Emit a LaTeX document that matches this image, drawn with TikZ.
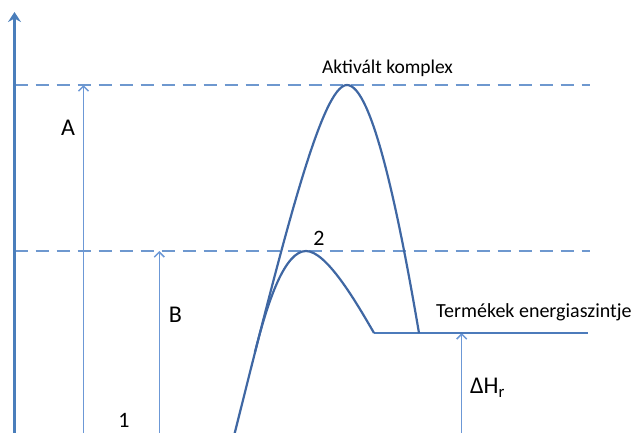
\documentclass[tikz,border=0pt]{standalone}
\usepackage{fontspec}
\setmainfont{Carlito}
\usetikzlibrary{arrows.meta}
\definecolor{axisblue}{HTML}{4A7EBB}
\definecolor{thinblue}{HTML}{6C98D6}
\definecolor{dashblue}{HTML}{6E98CF}
\definecolor{curveblue}{HTML}{3F67A3}
\definecolor{levelblue}{HTML}{4C7BBB}
\tikzset{
  axisline/.style={draw=axisblue, line width=3pt, -{Stealth[length=10pt,width=13pt,inset=3.5pt]}},
  thinarrow/.style={draw=thinblue, line width=1.5pt, -{Straight Barb[length=5pt,width=10pt]}},
  dashline/.style={draw=dashblue, line width=1.8pt, dash pattern=on 13pt off 8pt},
  curveline/.style={draw=curveblue, line width=2.2pt, line join=round},
  levelline/.style={draw=levelblue, line width=2.2pt},
  biglabel/.style={font=\fontsize{24}{28}\selectfont, inner sep=0pt},
  smalllabel/.style={font=\fontsize{19.5}{23}\selectfont, inner sep=0pt},
}
\begin{document}
\begin{tikzpicture}[x=1pt,y=-1pt]
\useasboundingbox (0,0) rectangle (633,432);
% coordinates
\coordinate (axB) at (14.5,436);
\coordinate (axT) at (14.5,12);
\coordinate (dAl) at (14.5,85);
\coordinate (dAr) at (590,85);
\coordinate (dBl) at (14.5,251);
\coordinate (dBr) at (590,251);
\coordinate (aAb) at (83.5,436);
\coordinate (aAt) at (83.5,85);
\coordinate (aBb) at (159.3,436);
\coordinate (aBt) at (159.3,251);
\coordinate (aHb) at (461.7,436);
\coordinate (aHt) at (461.7,333);
\coordinate (lvL) at (374,333);
\coordinate (lvR) at (588,333);
\coordinate (bigS) at (233,440);
\coordinate (peakA) at (347,85);
\coordinate (bigE) at (419,333);
\coordinate (smS) at (255,352);
\coordinate (peakB) at (306,251);
% dashed levels
\draw[dashline] (dAl) -- (dAr);
\draw[dashline] (dBl) -- (dBr);
% thin arrows
\draw[thinarrow] (aAb) -- (aAt);
\draw[thinarrow] (aBb) -- (aBt);
\draw[thinarrow] (aHb) -- (aHt);
% axis
\draw[axisline] (axB) -- (axT);
% product level
\draw[levelline] (lvL) -- (lvR);
% big curve
\draw[curveline] (bigS) .. controls (285,232) and (322,85) .. (peakA)
  .. controls (372,85) and (398.6,213) .. (bigE);
% small curve
\draw[curveline] (smS) .. controls (268,300) and (285,251) .. (peakB)
  .. controls (326,251) and (355,300) .. (lvL);
% labels
\node[biglabel] (lA) at (68,127.5) {A};
\node[biglabel] (lB) at (175.5,314.5) {B};
\node[biglabel, font=\fontsize{22}{26}\selectfont] (l1) at (124,420.5) {1};
\node[biglabel, font=\fontsize{22}{26}\selectfont] (l2) at (319,238.5) {2};
\node[smalllabel, anchor=base] (lak) at (387.5,73) {Aktivált komplex};
\node[smalllabel, font=\fontsize{20}{24}\selectfont, anchor=base west] (lte) at (436,317.5) {Termékek energiaszintje};
\node[biglabel, anchor=base west] (ldh) at (470,393.5) {ΔH\textsubscript{r}};
\end{tikzpicture}
\end{document}
